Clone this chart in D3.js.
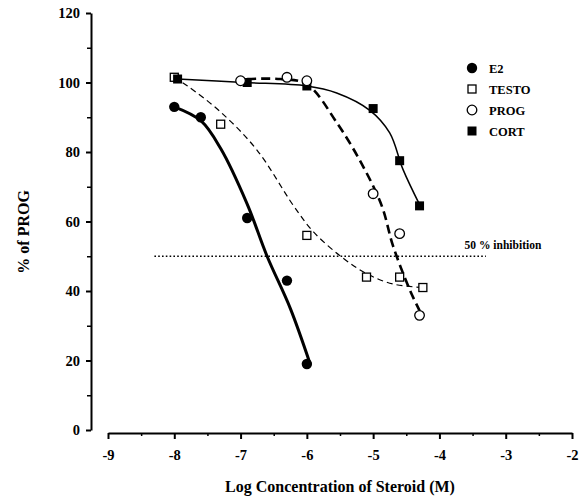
<!DOCTYPE html>
<html>
<head>
<meta charset="utf-8">
<script src="https://cdnjs.cloudflare.com/ajax/libs/d3/7.8.5/d3.min.js"></script>
<style>
  body { margin: 0; background: #fff; }
  svg text { font-family: "Liberation Serif", "Times New Roman", serif; font-weight: bold; fill: #000; }
</style>
</head>
<body>
<div id="chart"></div>
<script>
const width = 580;
const height = 497;

// measured points
const e2X = [-8, -7.6, -6.9, -6.3, -6];
const e2Y = [93, 90, 61, 43, 19];
const testoX = [-8, -7.3, -6, -5.1, -4.6, -4.25];
const testoY = [101.5, 88, 56, 44, 44, 41];
const progX = [-7, -6.3, -6, -5, -4.6, -4.3];
const progY = [100.5, 101.5, 100.5, 68, 56.5, 33];
const cortX = [-7.95, -6.9, -6, -5, -4.6, -4.3];
const cortY = [101, 100, 99, 92.5, 77.5, 64.5];

// fitted curves
const e2CurveX = [-8, -7.6, -7.3, -6.9, -6.6, -6.25, -5.95];
const e2CurveY = [93, 89, 81, 65, 50, 35, 19];
const testoCurveX = [-8, -7.8, -7.3, -6.75, -6.2, -5.9, -5.47, -5.1, -4.7, -4.25];
const testoCurveY = [101.5, 99, 91.5, 80.5, 64.5, 57, 49.7, 45, 42, 41];
const progCurveX = [-6.9, -6.4, -6, -5.55, -5.17, -4.87, -4.7, -4.44, -4.29];
const progCurveY = [101, 101, 99.5, 88.5, 76.5, 64.5, 53, 40, 34];
const cortCurveX = [-7.95, -6.95, -6, -5.55, -5.05, -4.75, -4.55, -4.29];
const cortCurveY = [101, 100, 99, 97, 92, 85.5, 75, 64.5];

const inhibX = [-8.3, -3.3];
const inhibY = [50, 50];

const xTicks = [-9, -8, -7, -6, -5, -4, -3, -2];
const yTicks = [0, 20, 40, 60, 80, 100, 120];
const legendNames = ['E2', 'TESTO', 'PROG', 'CORT'];

const svg = d3.select('#chart')
  .append('svg')
  .attr('width', width)
  .attr('height', height);

const xScale = d3.scaleLinear().domain([-9, -2]).range([108, 572]);
const yScale = d3.scaleLinear().domain([0, 120]).range([430, 13]);

// x axis (plain hyphen minus like the original)
const xAxis = d3.axisBottom(xScale)
  .tickValues(xTicks)
  .tickSize(6)
  .tickSizeOuter(0)
  .tickPadding(11)
  .tickFormat(d => String(d));

const gx = svg.append('g')
  .attr('transform', 'translate(0,433)')
  .call(xAxis);
gx.select('.domain').attr('stroke-width', 2);
gx.selectAll('.tick line').attr('stroke-width', 2);
gx.selectAll('.tick text').style('font-size', '14.5px');

const xMinor = d3.axisBottom(xScale)
  .tickValues(d3.range(-8.5, -2, 1))
  .tickSize(3)
  .tickFormat('');
svg.append('g')
  .attr('transform', 'translate(0,433)')
  .call(xMinor)
  .call(g => g.select('.domain').remove())
  .selectAll('line').attr('stroke-width', 1.5);

// y axis
const yAxis = d3.axisLeft(yScale)
  .tickValues(yTicks)
  .tickSize(5)
  .tickSizeOuter(0)
  .tickPadding(6);

const gy = svg.append('g')
  .attr('transform', 'translate(91,0)')
  .call(yAxis);
gy.select('.domain').attr('stroke-width', 2);
gy.selectAll('.tick line').attr('stroke-width', 2);
gy.selectAll('.tick text').style('font-size', '14.5px');

const yMinor = d3.axisLeft(yScale)
  .tickValues(d3.range(10, 120, 20))
  .tickSize(4)
  .tickFormat('');
svg.append('g')
  .attr('transform', 'translate(91,0)')
  .call(yMinor)
  .call(g => g.select('.domain').remove())
  .selectAll('line').attr('stroke-width', 1.5);

// axis titles
svg.append('text')
  .attr('transform', 'translate(29,' + yScale(57) + ') rotate(-90)')
  .attr('text-anchor', 'middle')
  .style('font-size', '16px')
  .text('% of PROG');

svg.append('text')
  .attr('x', xScale(-5.5))
  .attr('y', 492)
  .attr('text-anchor', 'middle')
  .style('font-size', '16px')
  .text('Log Concentration of Steroid (M)');

// 50% line
const line = d3.line()
  .x(d => xScale(d[0]))
  .y(d => yScale(d[1]));

svg.append('path')
  .datum(d3.zip(inhibX, inhibY))
  .attr('d', line)
  .attr('fill', 'none')
  .attr('stroke', '#000')
  .attr('stroke-width', 1.6)
  .attr('stroke-dasharray', '1.6,2.2');

svg.append('text')
  .attr('x', xScale(-3.62))
  .attr('y', yScale(52.2))
  .style('font-size', '11.5px')
  .text('50 % inhibition');

// curves
const curve = d3.line()
  .x(d => xScale(d[0]))
  .y(d => yScale(d[1]))
  .curve(d3.curveCatmullRom.alpha(0.5));

const curves = [
  { x: e2CurveX, y: e2CurveY, w: 3, dash: null },
  { x: testoCurveX, y: testoCurveY, w: 1.2, dash: '6,4' },
  { x: progCurveX, y: progCurveY, w: 2.6, dash: '9,5' },
  { x: cortCurveX, y: cortCurveY, w: 1.5, dash: null }
];

curves.forEach(c => {
  svg.append('path')
    .datum(d3.zip(c.x, c.y))
    .attr('d', curve)
    .attr('fill', 'none')
    .attr('stroke', '#000')
    .attr('stroke-width', c.w)
    .attr('stroke-dasharray', c.dash);
});

// markers
function drawMarker(g, type, cx, cy) {
  if (type === 'E2') {
    g.append('circle').attr('cx', cx).attr('cy', cy).attr('r', 5.2).attr('fill', '#000');
  } else if (type === 'TESTO') {
    g.append('rect').attr('x', cx - 4).attr('y', cy - 4).attr('width', 8).attr('height', 8)
      .attr('fill', '#fff').attr('stroke', '#000').attr('stroke-width', 1.3);
  } else if (type === 'PROG') {
    g.append('circle').attr('cx', cx).attr('cy', cy).attr('r', 4.8)
      .attr('fill', '#fff').attr('stroke', '#000').attr('stroke-width', 1.3);
  } else {
    g.append('rect').attr('x', cx - 4.5).attr('y', cy - 4.5).attr('width', 9).attr('height', 9)
      .attr('fill', '#000');
  }
}

const series = [
  { name: 'TESTO', x: testoX, y: testoY },
  { name: 'CORT', x: cortX, y: cortY },
  { name: 'PROG', x: progX, y: progY },
  { name: 'E2', x: e2X, y: e2Y }
];

const marks = svg.append('g');
series.forEach(s => {
  s.x.forEach((v, i) => drawMarker(marks, s.name, xScale(v), yScale(s.y[i])));
});

// legend
const legend = svg.append('g');
legendNames.forEach((name, i) => {
  const ly = 68 + i * 21;
  drawMarker(legend, name, 472, ly);
  legend.append('text')
    .attr('x', 489)
    .attr('y', ly + 4.5)
    .style('font-size', '12.5px')
    .text(name);
});
</script>
</body>
</html>
